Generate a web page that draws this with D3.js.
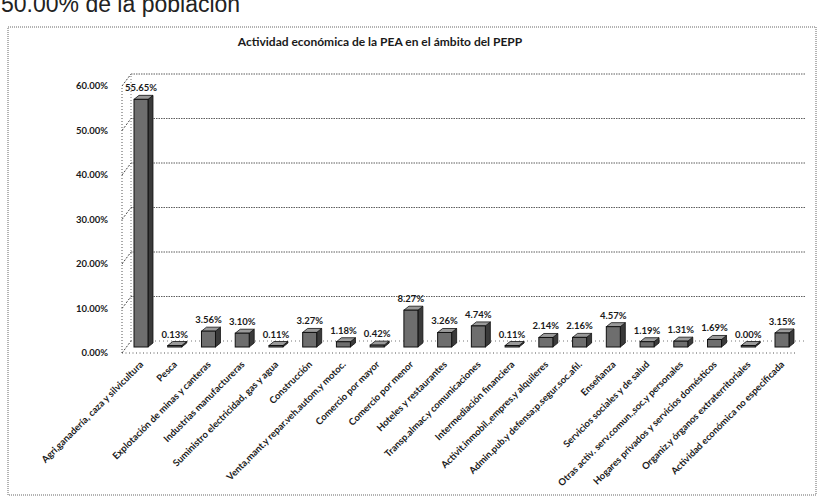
<!DOCTYPE html>
<html>
<head>
<meta charset="utf-8">
<script src="https://cdn.jsdelivr.net/npm/d3@7"></script>
<style>
  html, body { margin: 0; padding: 0; background: #fff; }
  svg { display: block; }
  text { font-family: Lato, "Open Sans", sans-serif; fill: #1a1a1a; }
</style>
</head>
<body>
<svg id="chart" width="823" height="504"></svg>
<script>
// Economic activity of the economically active population (share of total, %)
const categories = [
  "Agri,ganadería, caza y silvicultura",
  "Pesca",
  "Explotación de minas y canteras",
  "Industrias manufactureras",
  "Suministro electricidad, gas y agua",
  "Construcción",
  "Venta,mant.y repar.veh.autom.y motoc.",
  "Comercio por mayor",
  "Comercio por menor",
  "Hoteles y restaurantes",
  "Transp.almac.y comunicaciones",
  "Intermediación financiera",
  "Activit.inmobil.,empres.y alquileres",
  "Admin.pub.y defensa;p.segur.soc.afil.",
  "Enseñanza",
  "Servicios sociales y de salud",
  "Otras activ. serv.comun.,soc.y personales",
  "Hogares privados y servicios domésticos",
  "Organiz.y órganos extraterritoriales",
  "Actividad económica no especificada"
];
const values = [55.65, 0.13, 3.56, 3.10, 0.11, 3.27, 1.18, 0.42, 8.27, 3.26,
                4.74, 0.11, 2.14, 2.16, 4.57, 1.19, 1.31, 1.69, 0.00, 3.15];
const yTicks = [0, 10, 20, 30, 40, 50, 60];
const titleText = "Actividad económica de la PEA en el ámbito del PEPP";
const headingText = "50.00% de la población";

const svg = d3.select("#chart");

// Page heading above the figure (runs off the top edge)
svg.append("text")
  .attr("x", 1).attr("y", 12)
  .style("font-family", "Liberation Sans, Arial, sans-serif")
  .style("font-size", "23px")
  .style("fill", "#222")
  .text(headingText);

// Figure frame
svg.append("rect")
  .attr("x", 8).attr("y", 27).attr("width", 808).attr("height", 468)
  .attr("fill", "none").attr("stroke", "#666").attr("stroke-width", 1)
  .attr("stroke-dasharray", "1,1");

// Title
svg.append("text")
  .attr("x", 380).attr("y", 46)
  .attr("text-anchor", "middle")
  .style("font-size", "12px").style("font-weight", 700)
  .text(titleText);

const x = d3.scalePoint().domain(categories).range([141, 782]);
const y = d3.scaleLinear().domain([0, 60]).range([353, 86]);

const depthX = 9, depthY = -12;   // back-wall offset of the 3D plot area
const midX = 0, midY = -6;        // bars stand half-way into the depth
const xLeft = 122, xRight = 797;

const g = svg.append("g");

// Back wall gridlines
g.selectAll(".grid").data(yTicks.filter(d => d > 0)).join("line")
  .attr("x1", xLeft + depthX).attr("x2", xRight + depthX)
  .attr("y1", d => y(d) + depthY).attr("y2", d => y(d) + depthY)
  .attr("stroke", "#333").attr("stroke-width", 0.8)
  .attr("stroke-dasharray", "1.5,1");

// Side wall: front edge, back edge and tick slashes
g.append("line")
  .attr("x1", xLeft).attr("x2", xLeft).attr("y1", y(0)).attr("y2", y(60))
  .attr("stroke", "#555").attr("stroke-dasharray", "1,2");
g.append("line")
  .attr("x1", xLeft + depthX).attr("x2", xLeft + depthX)
  .attr("y1", y(0) + depthY).attr("y2", y(60) + depthY)
  .attr("stroke", "#777").attr("stroke-dasharray", "1,2");
g.selectAll(".slash").data(yTicks).join("line")
  .attr("x1", xLeft).attr("x2", xLeft + depthX)
  .attr("y1", d => y(d)).attr("y2", d => y(d) + depthY)
  .attr("stroke", "#444").attr("stroke-dasharray", "2,1.5");

// Floor
g.append("line")
  .attr("x1", xLeft).attr("x2", xRight).attr("y1", y(0)).attr("y2", y(0))
  .attr("stroke", "#555").attr("stroke-dasharray", "1,2.5");
g.append("line")
  .attr("x1", xLeft + depthX).attr("x2", xRight + depthX)
  .attr("y1", y(0) + depthY).attr("y2", y(0) + depthY)
  .attr("stroke", "#777").attr("stroke-dasharray", "1,3");

// Y axis labels
g.selectAll(".ytick").data(yTicks).join("text")
  .attr("x", 108).attr("y", d => y(d))
  .attr("dy", "0.35em")
  .attr("text-anchor", "end")
  .style("font-size", "9.5px").style("font-weight", 700)
  .text(d => d.toFixed(2) + "%");

// 3D bars
const bw = 14, bd = 5, bdy = -4;
const bars = g.selectAll(".bar").data(values).join("g");
const x0 = (d, i) => x(categories[i]) - bw / 2 + midX;
const y0 = () => y(0) + midY;
const yt = d => Math.min(y(d) + midY, y(0) + midY - 1.5);

bars.append("path")  // side face
  .attr("d", (d, i) => {
    const l = x0(d, i) + bw, t = yt(d), b = y0();
    return `M${l},${t}L${l + bd},${t + bdy}L${l + bd},${b + bdy}L${l},${b}Z`;
  })
  .attr("fill", "#3a3a3a").attr("stroke", "#111").attr("stroke-width", 0.8);
bars.append("path")  // top face
  .attr("d", (d, i) => {
    const l = x0(d, i), t = yt(d);
    return `M${l},${t}L${l + bd},${t + bdy}L${l + bw + bd},${t + bdy}L${l + bw},${t}Z`;
  })
  .attr("fill", "#9a9a9a").attr("stroke", "#111").attr("stroke-width", 0.8);
bars.append("rect")  // front face
  .attr("x", (d, i) => x0(d, i))
  .attr("y", d => yt(d))
  .attr("width", bw)
  .attr("height", d => y0() - yt(d))
  .attr("fill", "#6e6e6e").attr("stroke", "#111").attr("stroke-width", 1);

// Value labels
g.selectAll(".vlabel").data(values).join("text")
  .attr("x", (d, i) => x(categories[i]))
  .attr("y", d => yt(d) + bdy - 4)
  .attr("text-anchor", "middle")
  .style("font-size", "9.5px").style("font-weight", 700)
  .text(d => d.toFixed(2) + "%");

// Category labels
g.selectAll(".xlabel").data(categories).join("text")
  .attr("transform", d => `translate(${x(d) + 3},${y(0) + 12}) rotate(-45)`)
  .attr("text-anchor", "end")
  .style("font-size", "9.5px").style("font-weight", 700)
  .text(d => d);
</script>
</body>
</html>
